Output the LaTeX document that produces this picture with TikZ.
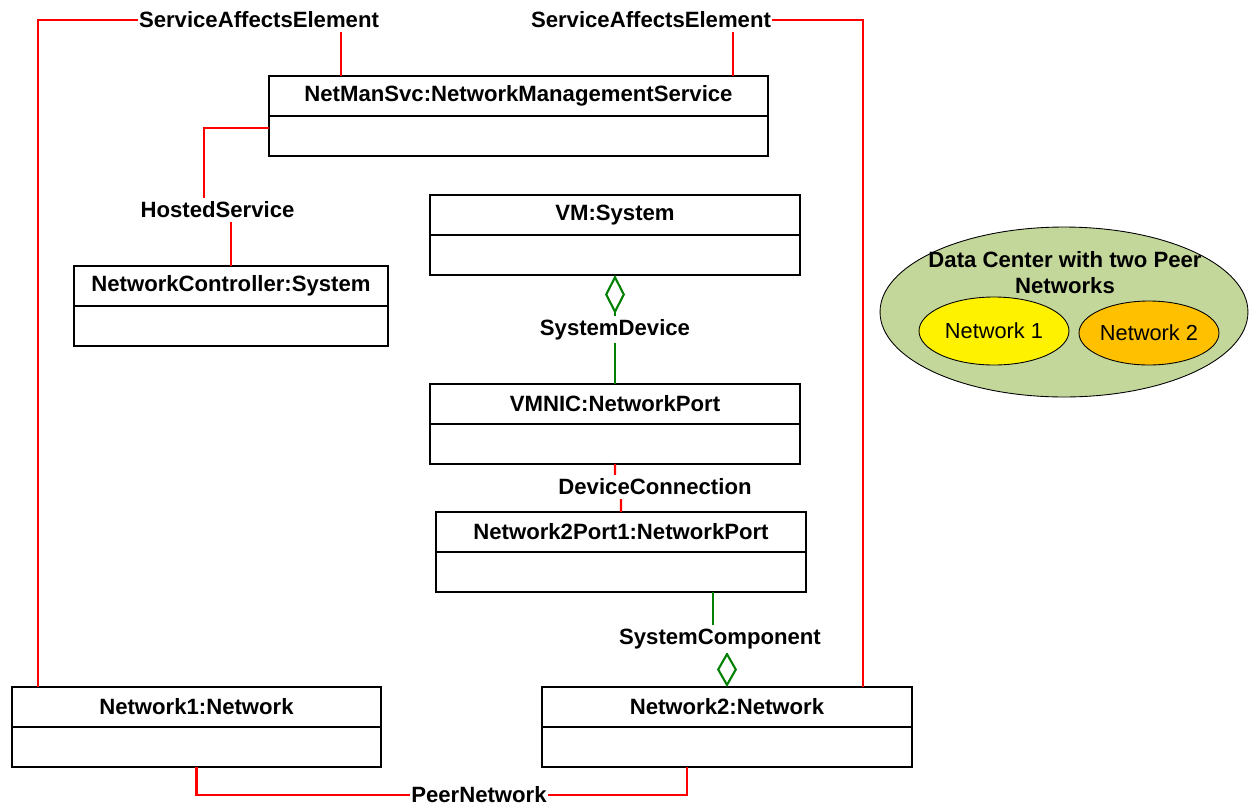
\documentclass[tikz,border=0pt]{standalone}
\usepackage{fontspec}
\setmainfont{Liberation Sans}
\usetikzlibrary{arrows.meta,positioning,shapes.geometric,calc}
\definecolor{umlgreen}{RGB}{0,128,0}
\definecolor{dcgreen}{RGB}{196,215,155}
\definecolor{netorange}{RGB}{255,192,0}

\begin{document}
\begin{tikzpicture}[x=0.02cm,y=-0.02cm,
    objhead/.style={draw,line width=1.2pt,minimum width=#1,minimum height=0.8cm,
        inner sep=0pt,outer sep=0pt,font=\fontsize{12.6}{15}\selectfont\bfseries},
    objbody/.style={draw,line width=1.2pt,minimum width=#1,minimum height=0.8cm,
        inner sep=0pt,outer sep=0pt},
    lbl/.style={fill=white,inner xsep=0.5pt,inner ysep=2pt,font=\fontsize{12.6}{15}\selectfont\bfseries},
    assoc/.style={draw=red,line width=1.2pt},
    compo/.style={draw=umlgreen,line width=1.2pt},
    blob/.style={ellipse,draw,line width=0.5pt,inner sep=0pt,font=\fontsize{12.4}{15}\selectfont}]

            \useasboundingbox (0,0) rectangle (1249,806);

            % define the objects

            \node[objhead=9.98cm]                      (nms)   at (518.5,96) {NetManSvc:NetworkManagementService};
            \node[objbody=9.98cm,below=0pt of nms]     (nmsb)                {};
            \node[objhead=6.28cm]                      (nctl)  at (231,286)  {NetworkController:System};
            \node[objbody=6.28cm,below=0pt of nctl]    (nctlb)               {};
            \node[objhead=7.4cm]                       (vm)    at (615,215)  {VM:System};
            \node[objbody=7.4cm,below=0pt of vm]       (vmb)                 {};
            \node[objhead=7.4cm]                       (vmnic) at (615,404)  {VMNIC:NetworkPort};
            \node[objbody=7.4cm,below=0pt of vmnic]    (vmnicb)              {};
            \node[objhead=7.4cm]                       (n2p1)  at (621,532)  {Network2Port1:NetworkPort};
            \node[objbody=7.4cm,below=0pt of n2p1]     (n2p1b)               {};
            \node[objhead=7.38cm]                      (net1)  at (196.5,707) {Network1:Network};
            \node[objbody=7.38cm,below=0pt of net1]    (net1b)               {};
            \node[objhead=7.4cm]                       (net2)  at (727,707)  {Network2:Network};
            \node[objbody=7.4cm,below=0pt of net2]     (net2b)               {};

            % associations

            \draw[assoc] ($(net1.north west)+(26,0)$) |- ($(nms.north west)+(72,-56)$) -- ($(nms.north west)+(72,0)$);
            \draw[assoc] ($(nms.north east)+(-35,0)$) -- ++(0,-56) -| ($(net2.north east)+(-49,0)$);
            \draw[assoc] ($(nmsb.west)+(0,-8)$) -| ($(nctl.north)+(-27,-56)$)
                         -- node[lbl] (hslbl) {HostedService} ($(nctl.north)+(0,-56)$) -- (nctl.north);
            \draw[assoc] (vmnicb.south) -- ($(vmnicb.south)+(0,23)$) -- ($(n2p1.north)+(0,-25)$) -- (n2p1.north);
            \draw[assoc] (net1b.south) -- ++(0,28) -| ($(net2b.south)+(-40,0)$);

            % compositions

            \draw[compo,{Diamond[open,length=0.78cm,width=0.4cm]}-] (vmb.south) -- node[lbl] (sdlbl) {SystemDevice} (vmnic.north);
            \draw[compo,-{Diamond[open,length=0.7cm,width=0.4cm]}] ($(n2p1b.south)+(92,0)$) -- ++(0,47) -| (net2.north);

            % labels

            \node[lbl] (sae1) at (259,20)                        {ServiceAffectsElement};
            \node[lbl] (sae2) at (651,20)                        {ServiceAffectsElement};
            \node[lbl] (dclbl) at ($(n2p1.north)+(34,-25)$)      {DeviceConnection};
            \node[lbl] (sclbl) at ($(net2.north)+(-7,-48)$)      {SystemComponent};
            \node[lbl] (pnlbl) at (479,795)                      {PeerNetwork};

            % legend

            \node[blob,fill=dcgreen,minimum width=7.36cm,minimum height=3.4cm] (dc)  at (1064,312) {};
            \node[font=\fontsize{12.6}{14.8}\selectfont\bfseries,align=center] (dctitle) at (1065,273)
                 {Data Center with two Peer\\Networks};
            \node[blob,fill=yellow,minimum width=3cm,minimum height=1.36cm]    (nw1) at (994,331)  {Network 1};
            \node[blob,fill=netorange,minimum width=2.8cm,minimum height=1.28cm] (nw2) at (1149,333) {Network 2};

        \end{tikzpicture}
\end{document}
